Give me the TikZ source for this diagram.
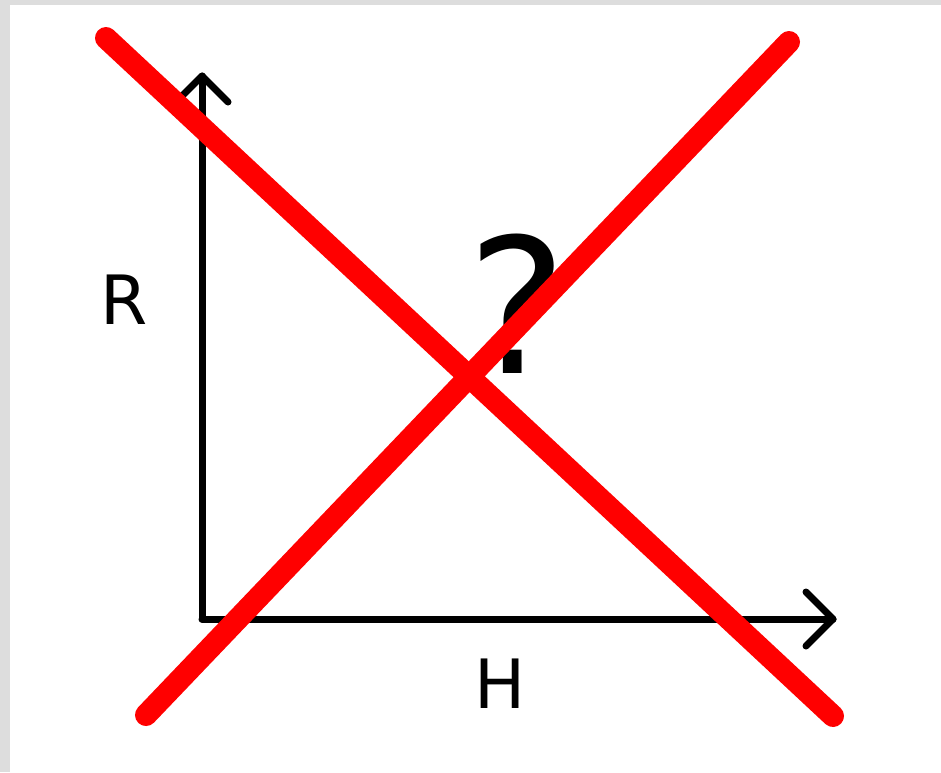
\documentclass[tikz,border=0pt]{standalone}
\usepackage{fontspec}
\setmainfont{DejaVu Sans}
\definecolor{bordergray}{HTML}{DDDDDD}
\definecolor{crossred}{HTML}{FF0000}
\begin{document}
\begin{tikzpicture}[x=1pt,y=-1pt,
  axis/.style={draw=black,line width=7pt,line cap=round,line join=round},
  crossline/.style={draw=crossred,line width=22pt,line cap=round},
  lbl/.style={inner sep=0pt,font=\fontsize{68}{80}\selectfont},
  qmark/.style={inner sep=0pt,font=\fontsize{188}{200}\selectfont}]
\useasboundingbox (0,0) rectangle (941,772);
\fill[bordergray] (0,0) rectangle (941,772);
\fill[white] (10,5) rectangle (941,772);
% axes
\coordinate (O) at (202,619);
\coordinate (Rtip) at (202,76);
\coordinate (Htip) at (833,619);
\draw[axis] (O) -- (Rtip);
\draw[axis] (O) -- (Htip);
\draw[axis] (176,102) -- (Rtip) -- (228,102);
\draw[axis] (806,592) -- (Htip) -- (806,646);
% labels
\node[lbl] (R) at (124,300) {R};
\node[lbl] (H) at (500,684) {H};
\node[qmark] (Q) at (517,304) {?};
% red cross
\coordinate (A1) at (106,38);
\coordinate (A2) at (833,716);
\coordinate (B1) at (146,715);
\coordinate (B2) at (789,42);
\draw[crossline] (A1) -- (A2);
\draw[crossline] (B1) -- (B2);
\end{tikzpicture}
\end{document}
